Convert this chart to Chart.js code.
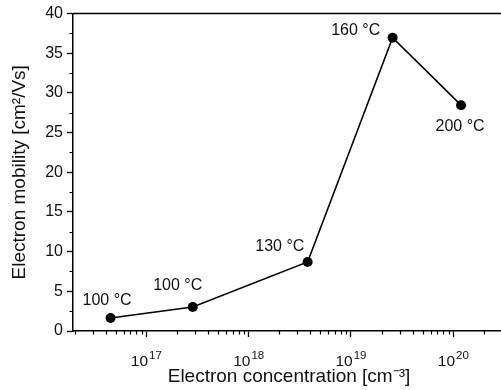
<!DOCTYPE html>
<html>
<head>
<meta charset="utf-8">
<script src="https://cdn.jsdelivr.net/npm/chart.js@4/dist/chart.umd.min.js"></script>
<style>
  html, body { margin: 0; padding: 0; background: #fff; overflow: hidden; }
  #wrap { width: 510px; height: 390px; position: relative; }
</style>
</head>
<body>
<div id="wrap"><canvas id="c" width="510" height="390"></canvas></div>
<script>
// ---- data ----
const electronConcentration = [4.47e16, 2.84e17, 3.77e18, 2.55e19, 1.19e20]; // cm^-3
const electronMobility = [1.64, 3.03, 8.70, 36.95, 28.46];                  // cm^2/Vs
const pointLabels = ['100 °C', '100 °C', '130 °C', '160 °C', '200 °C'];
const xMajorTicks = [1e17, 1e18, 1e19, 1e20];
const xTickBase = '10';
const xTickExponents = ['17', '18', '19', '20'];
const yTickValues = [0, 5, 10, 15, 20, 25, 30, 35, 40];
const xAxisTitle = 'Electron concentration [cm⁻³]';
const yAxisTitle = 'Electron mobility [cm²/Vs]';

// ---- label placement (style) ----
const labelPlacement = [
  { align: 'center', dx: -3.5, dy: -13.4 },
  { align: 'center', dx: -15, dy: -16.7 },
  { align: 'right', dx: -3.3, dy: -10.7 },
  { align: 'right', dx: -12.3, dy: -2.7 },
  { align: 'center', dx: -1, dy: 26 }
];

const FONT = '"Liberation Sans", Arial, Helvetica, sans-serif';

const framePlugin = {
  id: 'frameAndMinor',
  afterDraw(chart) {
    const ctx = chart.ctx;
    const a = chart.chartArea;
    const xs = chart.scales.x, ys = chart.scales.y;
    ctx.save();
    ctx.strokeStyle = '#000';
    ctx.lineWidth = 1.5;
    ctx.beginPath();
    ctx.moveTo(a.left, a.top); ctx.lineTo(a.right, a.top);
    ctx.moveTo(a.right, a.top); ctx.lineTo(a.right, a.bottom);
    ctx.stroke();
    // minor ticks x
    ctx.lineWidth = 1.2;
    ctx.beginPath();
    for (let e = 16; e <= 20; e++) {
      for (let m = 2; m <= 9; m++) {
        const v = m * Math.pow(10, e);
        if (v < xs.min || v > xs.max) continue;
        const px = Math.round(xs.getPixelForValue(v)) + 0.5;
        ctx.moveTo(px, a.bottom); ctx.lineTo(px, a.bottom + 3.5);
      }
    }
    // minor ticks y
    for (let v = 2.5; v < 40; v += 5) {
      const py = Math.round(ys.getPixelForValue(v)) + 0.5;
      ctx.moveTo(a.left, py); ctx.lineTo(a.left - 3.5, py);
    }
    ctx.stroke();
    // x tick labels: 10 with superscript exponent
    ctx.fillStyle = '#111';
    ctx.textBaseline = 'alphabetic';
    ctx.textAlign = 'left';
    xMajorTicks.forEach((v, i) => {
      const px = xs.getPixelForValue(v);
      ctx.font = '15.5px ' + FONT;
      const wb = ctx.measureText(xTickBase).width;
      ctx.font = '11.5px ' + FONT;
      const we = ctx.measureText(xTickExponents[i]).width;
      const x0 = px - (wb + 1 + we) / 2;
      ctx.font = '15.5px ' + FONT;
      ctx.fillText(xTickBase, x0, a.bottom + 35);
      ctx.font = '11.5px ' + FONT;
      ctx.fillText(xTickExponents[i], x0 + wb + 1, a.bottom + 27.5);
    });
    ctx.restore();
  },
  afterDatasetsDraw(chart) {
    const ctx = chart.ctx;
    const meta = chart.getDatasetMeta(0);
    ctx.save();
    ctx.fillStyle = '#111';
    ctx.font = '16px ' + FONT;
    ctx.textBaseline = 'alphabetic';
    meta.data.forEach((pt, i) => {
      const p = labelPlacement[i];
      ctx.textAlign = p.align;
      ctx.fillText(pointLabels[i], pt.x + p.dx, pt.y + p.dy);
    });
    ctx.restore();
  }
};

new Chart(document.getElementById('c'), {
  type: 'line',
  data: {
    datasets: [{
      data: electronConcentration.map((x, i) => ({ x: x, y: electronMobility[i] })),
      borderColor: '#000',
      borderWidth: 1.6,
      backgroundColor: '#000',
      pointBackgroundColor: '#000',
      pointBorderColor: '#000',
      pointRadius: 5,
      pointBorderWidth: 0,
      tension: 0,
      fill: false
    }]
  },
  options: {
    responsive: false,
    animation: false,
    events: [],
    layout: { padding: { top: 13, right: 3, bottom: 0, left: 0 } },
    plugins: { legend: { display: false }, tooltip: { enabled: false } },
    scales: {
      x: {
        type: 'logarithmic',
        min: 1.92e16,
        max: 3.2e20,
        afterBuildTicks: s => { s.ticks = xMajorTicks.map(v => ({ value: v })); },
        afterFit: s => { s.height = 59; },
        ticks: {
          autoSkip: false,
          maxRotation: 0,
          color: 'rgba(0,0,0,0)',
          padding: 4,
          font: { family: FONT, size: 15 },
          callback: (v) => { const i = xMajorTicks.indexOf(v); return i >= 0 ? xTickBase + '^' + xTickExponents[i] : ''; }
        },
        grid: { drawOnChartArea: false, tickLength: 6, tickWidth: 1.3, tickColor: '#000' },
        border: { color: '#000', width: 1.5 },
        title: { display: true, text: xAxisTitle, color: '#111', font: { family: FONT, size: 19 }, padding: { top: 0, bottom: 2 } }
      },
      y: {
        type: 'linear',
        min: 0,
        max: 40,
        afterBuildTicks: s => { s.ticks = yTickValues.map(v => ({ value: v })); },
        afterFit: s => { s.width = 73; },
        ticks: { color: '#111', padding: 4, font: { family: FONT, size: 16 } },
        grid: { drawOnChartArea: false, tickLength: 6, tickWidth: 1.3, tickColor: '#000' },
        border: { color: '#000', width: 1.5 },
        title: { display: true, text: yAxisTitle, color: '#111', font: { family: FONT, size: 19 }, padding: { top: 8, bottom: 0 } }
      }
    }
  },
  plugins: [framePlugin]
});
</script>
</body>
</html>
